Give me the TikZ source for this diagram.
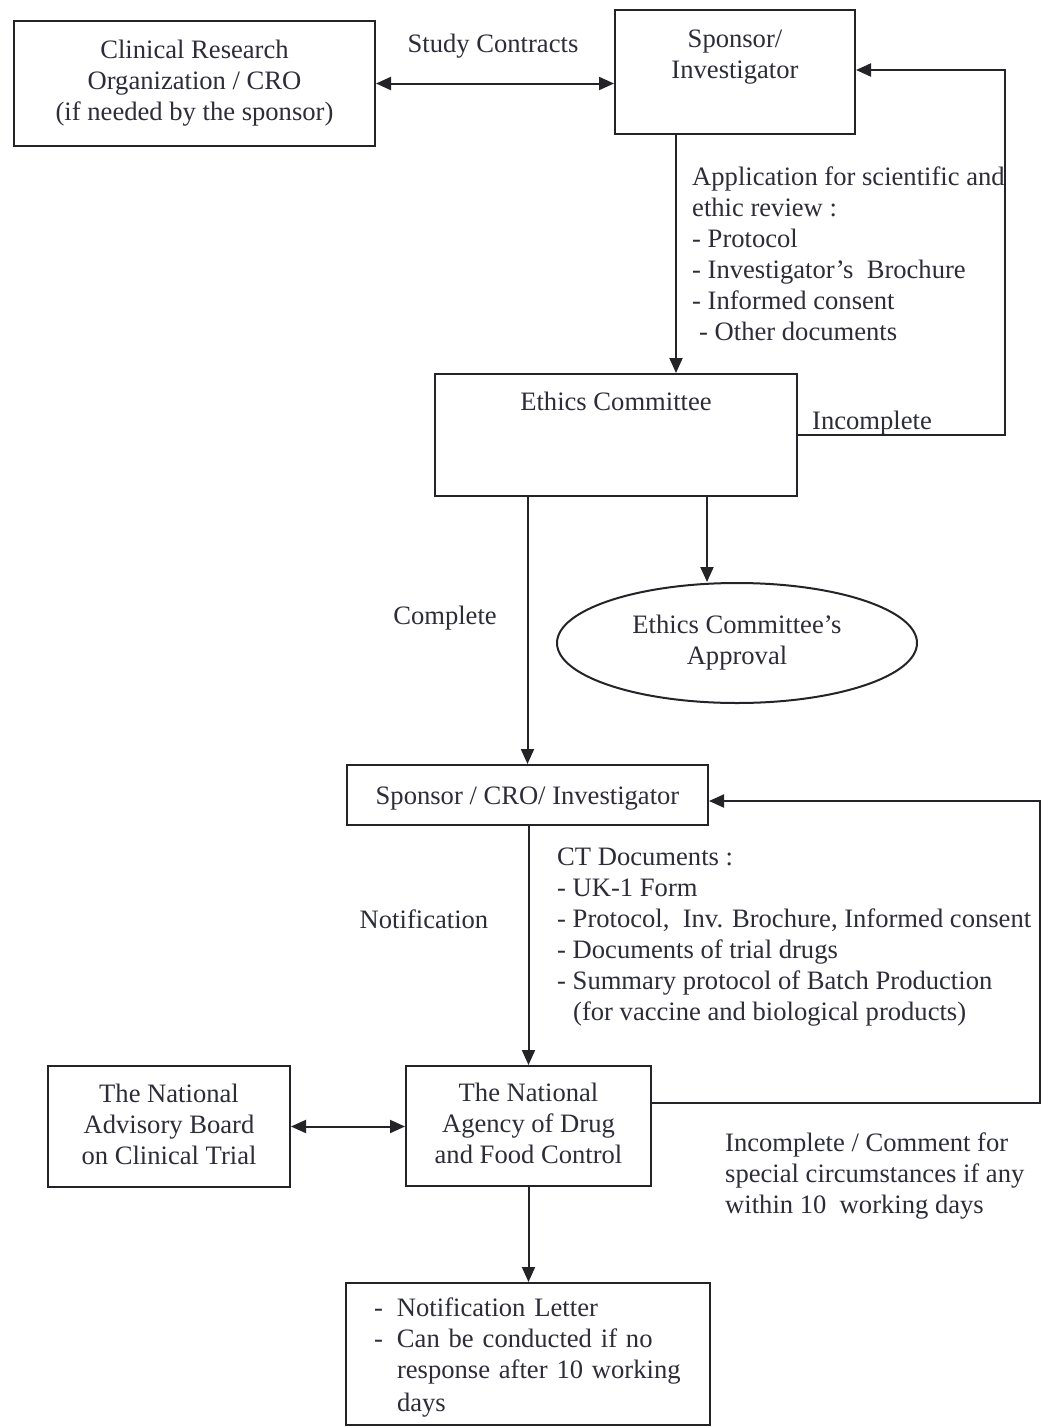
\documentclass[tikz,border=0pt]{standalone}
\usepackage{fontspec}
\setmainfont{Liberation Serif}
\usetikzlibrary{arrows.meta,shapes.geometric}
\definecolor{lnc}{RGB}{35,35,40}
\definecolor{txc}{RGB}{45,45,58}
\newcommand\mystrut{\rule[-5.1pt]{0pt}{30.6pt}}
\begin{document}
\begin{tikzpicture}[x=1pt,y=-1pt,
  every node/.style={text=txc,font=\fontsize{26.6}{31}\selectfont},
  box/.style={draw=lnc,line width=2pt,inner sep=0pt,align=center,
    execute at begin node={\mystrut},execute at end node={\mystrut}},
  lbl/.style={inner sep=0pt,align=left,anchor=north west,
    execute at begin node={\strut},execute at end node={\strut}},
  tag/.style={inner sep=0pt,anchor=base},
  wire/.style={draw=lnc,line width=2pt},
  arr/.style={wire,-{Triangle[length=15pt,width=13pt]}},
  darr/.style={wire,{Triangle[length=15pt,width=13pt]}-{Triangle[length=15pt,width=13pt]}}]
\useasboundingbox[fill=white] (0,0) rectangle (1042,1427);

% boxes
\node[box,minimum width=361pt,minimum height=125pt] (cro) at (194.5,83.5)
  {Clinical Research\\Organization / CRO\\(if needed by\ the sponsor)};
\node[box,minimum width=240pt,minimum height=124pt] (spi) at (735,72)
  {Sponsor/\\Investigator\\ };
\node[box,minimum width=362pt,minimum height=122pt] (ethics) at (616,435)
  {Ethics Committee\\ \\ };
\node[box,shape=ellipse,minimum width=360pt,minimum height=120pt] (appr) at (737,643)
  {Ethics Committee’s\\Approval};
\node[box,minimum width=361pt,minimum height=60pt] (sci) at (527.5,795)
  {Sponsor / CRO/ Investigator};
\node[box,minimum width=245pt,minimum height=120pt] (agency) at (528.5,1126)
  {The National\\Agency of Drug\\and Food Control};
\node[box,minimum width=242pt,minimum height=121pt] (advisory) at (169,1126.5)
  {The National\\Advisory Board\\on Clinical Trial};
\node[box,align=left,text width=308pt,inner xsep=28pt,minimum height=142pt] (letter) at (528,1354)
  {\makebox[23pt][l]{-}Notification Letter\\
   \makebox[23pt][l]{-}Can be conducted if no\\
   \hspace*{23pt}response after 10 working\\
   \hspace*{23pt}days};

% free labels
\node[tag] (study) at (493,52) {Study Contracts};
\node[lbl] (app) at (692,166.5)
  {Application for scientific and\\ethic review :\\- Protocol\\- Investigator’s\ \ Brochure\\- Informed consent\\\hspace*{7pt}- Other documents};
\node[tag] (inc1) at (872,429) {Incomplete};
\node[tag] (comp) at (445,624) {Complete};
\node[tag] (notif) at (424,928) {Notification};
\node[lbl] (ct) at (557,848)
  {CT Documents :\\- UK-1 Form\\- Protocol,\ \ Inv. Brochure, Informed consent\\- Documents of trial drugs\\- Summary protocol of Batch Production\\\hspace*{16pt}(for vaccine and biological products)};
\node[lbl] (inc2) at (725,1132.5)
  {Incomplete / Comment for\\special circumstances if any\\within 10\ \ working days};

% bend points
\coordinate (f1) at (1005,70);
\coordinate (f2) at (1040,801);

% connectors
\draw[darr] (cro.east) -- (cro.east -| spi.west);
\draw[arr] ([xshift=-59pt]spi.south) -- ([xshift=-59pt]spi.south |- ethics.north);
\draw[arr] (ethics.east) -| (f1) -- (f1 -| spi.east);
\draw[arr] (sci.north |- ethics.south) -- (sci.north);
\draw[arr] ([xshift=-30pt]appr.north |- ethics.south) -- ([xshift=-30pt]appr.north);
\draw[arr] (agency.north |- sci.south) -- (agency.north);
\draw[arr] ([yshift=23pt]agency.east) -| (f2) -- (f2 -| sci.east);
\draw[darr] (advisory.east) -- (advisory.east -| agency.west);
\draw[arr] (agency.south) -- (agency.south |- letter.north);
\end{tikzpicture}
\end{document}
